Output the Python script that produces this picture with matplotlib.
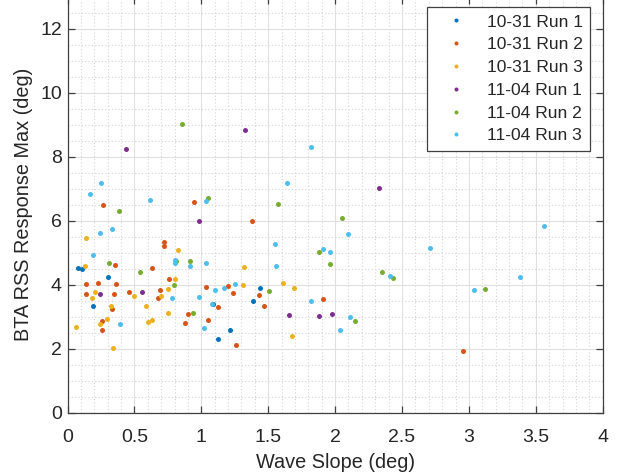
import matplotlib
matplotlib.use("Agg")
import matplotlib.pyplot as plt
from matplotlib.ticker import MultipleLocator

plt.rcParams['font.family'] = ['Liberation Sans', 'DejaVu Sans']

labels = ['10-31 Run 1', '10-31 Run 2', '10-31 Run 3', '11-04 Run 1', '11-04 Run 2', '11-04 Run 3']
colors = ['#0072BD', '#D95319', '#EDB120', '#7E2F8E', '#77AC30', '#4DBEEE']

run1031_1 = [(0.08, 4.53), (0.107, 4.49), (0.301, 4.25), (0.191, 3.33), (1.435, 3.89), (1.39, 3.48),
             (1.216, 2.59), (1.124, 2.29), (1.087, 3.39)]
run1031_2 = [(0.266, 6.49), (0.943, 6.59), (1.38, 5.99), (0.719, 5.35), (0.724, 5.22), (0.358, 4.61),
             (0.629, 4.53), (0.761, 4.18), (0.231, 4.05), (0.366, 4.03), (0.142, 4.02), (1.035, 3.92),
             (1.196, 3.97), (0.137, 3.71), (0.348, 3.71), (0.46, 3.77), (0.692, 3.82), (0.674, 3.60),
             (0.331, 3.25), (0.898, 3.10), (1.124, 3.31), (1.239, 3.73), (1.433, 3.68), (0.259, 2.87),
             (0.259, 2.58), (0.881, 2.80), (1.047, 2.90), (1.259, 2.13), (1.465, 3.33), (1.906, 3.55),
             (2.958, 1.93)]
run1031_3 = [(0.142, 5.47), (0.823, 5.08), (0.129, 4.59), (1.318, 4.55), (0.803, 4.18), (1.308, 3.99),
             (0.184, 3.60), (0.209, 3.78), (0.498, 3.64), (0.701, 3.65), (0.754, 3.88), (0.328, 3.35),
             (0.587, 3.34), (0.751, 3.125), (0.062, 2.69), (0.244, 2.77), (0.293, 2.94), (0.604, 2.83),
             (0.632, 2.90), (0.338, 2.02), (1.61, 4.06), (1.692, 3.90), (1.677, 2.41)]
run1104_1 = [(0.44, 8.24), (1.33, 8.82), (0.98, 6.0), (0.241, 3.71), (0.56, 3.76), (2.33, 7.01),
             (1.659, 3.04), (1.876, 3.02), (1.978, 3.07)]
run1104_2 = [(0.853, 9.03), (1.047, 6.71), (0.383, 6.29), (0.81, 4.74), (0.918, 4.74), (0.308, 4.67),
             (0.54, 4.39), (0.796, 3.98), (0.935, 3.11), (1.575, 6.53), (2.055, 6.10), (1.883, 5.03),
             (1.96, 4.65), (2.353, 4.41), (2.435, 4.20), (1.507, 3.79), (2.149, 2.88), (3.117, 3.875)]
run1104_3 = [(0.254, 7.18), (0.167, 6.83), (0.617, 6.64), (1.037, 6.62), (0.241, 5.62), (0.333, 5.75),
             (0.189, 4.92), (0.803, 4.77), (0.806, 4.68), (0.913, 4.59), (1.037, 4.67), (1.254, 4.03),
             (1.167, 3.90), (1.102, 3.82), (0.784, 3.59), (0.98, 3.63), (0.39, 2.77), (1.017, 2.65),
             (1.08, 3.41), (1.823, 8.29), (1.637, 7.17), (2.095, 5.57), (1.552, 5.26), (1.913, 5.11),
             (1.963, 5.03), (2.709, 5.16), (1.557, 4.60), (2.41, 4.26), (1.823, 3.48), (2.112, 2.98),
             (2.04, 2.60), (3.565, 5.82), (3.38, 4.23), (3.037, 3.82)]

series = [run1031_1, run1031_2, run1031_3, run1104_1, run1104_2, run1104_3]

W, H = 620, 476
fig = plt.figure(figsize=(W / 100, H / 100), dpi=100)
left, right, bottom = 67.5, 602.7, 412.7
top = 412.7 - 13 * 32.0
ax = fig.add_axes([left / W, (H - bottom) / H, (right - left) / W, (bottom - top) / H])

for pts, c, lab in zip(series, colors, labels):
    xs = [p[0] for p in pts]
    ys = [p[1] for p in pts]
    ax.plot(xs, ys, linestyle='none', marker='o', markersize=3.6, markeredgewidth=0,
            color=c, label=lab)

ax.set_xlim(0, 4)
ax.set_ylim(0, 13)
ax.xaxis.set_major_locator(MultipleLocator(0.5))
ax.xaxis.set_minor_locator(MultipleLocator(0.1))
ax.yaxis.set_major_locator(MultipleLocator(2))
ax.yaxis.set_minor_locator(MultipleLocator(0.5))
ax.xaxis.set_major_formatter(plt.FuncFormatter(lambda v, p: f'{v:g}'))

ax.grid(True, which='major', color='#e0e0e0', linewidth=0.8, linestyle='-')
ax.grid(True, which='minor', color='#d4d4d4', linewidth=0.8, linestyle=(0, (1, 2)))
ax.set_axisbelow(True)

for s in ax.spines.values():
    s.set_color('#404040')
    s.set_linewidth(0.9)

ax.tick_params(which='major', direction='in', length=5, width=0.9, color='#404040',
               labelsize=14, labelcolor='#262626', top=True, right=True)
ax.tick_params(axis='x', which='major', pad=12)
ax.tick_params(axis='y', which='major', pad=4)
ax.tick_params(which='minor', length=0, top=True, right=True)

ax.set_xlabel('Wave Slope (deg)', fontsize=14.3, color='#262626', labelpad=5)
ax.set_ylabel('BTA RSS Response Max (deg)', fontsize=14.3, color='#262626', labelpad=5)

leg = ax.legend(loc='upper right', bbox_to_anchor=(590 / W, (H - 7) / H),
                bbox_transform=fig.transFigure, fontsize=12.6, frameon=True, fancybox=False,
                edgecolor='#404040', framealpha=1, handlelength=2.5, handletextpad=0.5,
                borderpad=0.42, labelspacing=0.43, markerscale=0.8, borderaxespad=0)
leg.get_frame().set_linewidth(0.9)
for t in leg.get_texts():
    t.set_color('#262626')

fig.savefig('out.png', dpi=100)
